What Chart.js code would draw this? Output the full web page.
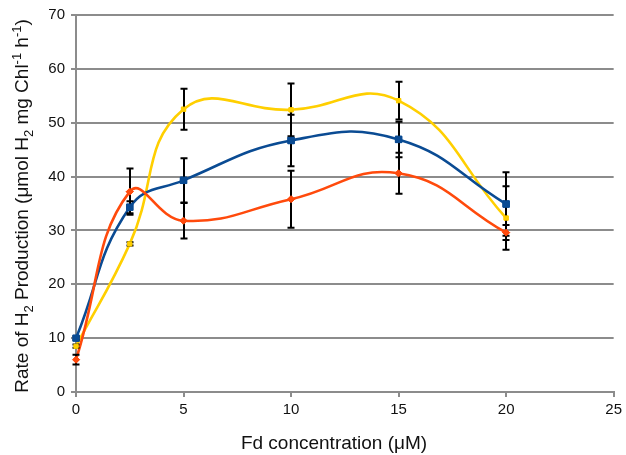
<!DOCTYPE html>
<html>
<head>
<meta charset="utf-8">
<script src="https://cdn.jsdelivr.net/npm/chart.js@4"></script>
<style>
html,body{margin:0;padding:0;background:#fff;}
#wrap{width:626px;height:455px;}
</style>
</head>
<body>
<div id="wrap"><canvas id="c" width="626" height="455"></canvas></div>
<script>
const xValues = [0, 2.5, 5, 10, 15, 20];
const blueValues = [10, 34.3, 39.3, 46.7, 46.9, 34.9];
const blueErrors = [0.3, 1.1, 4.1, 4.8, 3.3, 5.9];
const orangeValues = [6, 37.2, 31.8, 35.8, 40.6, 29.6];
const orangeErrors = [0.9, 4.3, 3.3, 5.3, 3.8, 1.4];
const yellowValues = [8.5, 27.5, 52.5, 52.4, 54.1, 32.3];
const yellowErrors = [0.3, 0.3, 3.8, 4.9, 3.5, 5.9];
const xTicks = [0, 5, 10, 15, 20, 25];
const yTicks = [0, 10, 20, 30, 40, 50, 60, 70];
const xTitle = [['Fd concentration (μM)', 'n']];
const yTitle = [['Rate of H', 'n'], ['2', 'sub'], [' Production (μmol H', 'n'], ['2', 'sub'], [' mg Chl', 'n'], ['-1', 'sup'], [' h', 'n'], ['-1', 'sup'], [')', 'n']];

function pts(vals){ return xValues.map((x,i)=>({x:x, y:vals[i]})); }

const FONT = 'Liberation Sans';

const errorBars = {
  id:'errorBars',
  afterDatasetsDraw(chart){
    const ctx = chart.ctx, xs = chart.scales.x, ys = chart.scales.y;
    ctx.save();
    ctx.strokeStyle = '#000';
    ctx.lineWidth = 2;
    chart.data.datasets.forEach(ds=>{
      if(!ds.errors) return;
      ds.data.forEach((p,i)=>{
        const e = ds.errors[i];
        const px = Math.round(xs.getPixelForValue(p.x));
        const top = ys.getPixelForValue(p.y + e);
        const bot = ys.getPixelForValue(p.y - e);
        ctx.beginPath();
        ctx.moveTo(px, top); ctx.lineTo(px, bot);
        ctx.moveTo(px-3.5, top); ctx.lineTo(px+3.5, top);
        ctx.moveTo(px-3.5, bot); ctx.lineTo(px+3.5, bot);
        ctx.stroke();
      });
    });
    ctx.restore();
    // redraw markers above error bars
    const metas = chart.getSortedVisibleDatasetMetas().slice().reverse();
    metas.forEach(m=>{ m.data.forEach(pt=>pt.draw(ctx, chart.chartArea)); });
  }
};

function drawRich(ctx, parts, size){
  const widths = parts.map(([t,k])=>{
    ctx.font = (k==='n'? size : size*0.68) + 'px "' + FONT + '"';
    return ctx.measureText(t).width;
  });
  const total = widths.reduce((a,b)=>a+b,0);
  let x = -total/2;
  parts.forEach(([t,k],i)=>{
    const s = k==='n'? size : size*0.68;
    ctx.font = s + 'px "' + FONT + '"';
    const dy = k==='sub' ? size*0.28 : (k==='sup' ? -size*0.38 : 0);
    ctx.fillText(t, x, dy);
    x += widths[i];
  });
}

const axisTitles = {
  id:'axisTitles',
  afterDraw(chart){
    const ctx = chart.ctx;
    ctx.save();
    ctx.fillStyle = '#111';
    ctx.textBaseline = 'alphabetic';
    ctx.textAlign = 'left';
    ctx.save();
    ctx.translate(334, 449);
    drawRich(ctx, xTitle, 19);
    ctx.restore();
    ctx.save();
    ctx.translate(28, 206);
    ctx.rotate(-Math.PI/2);
    drawRich(ctx, yTitle, 19);
    ctx.restore();
    ctx.restore();
  }
};

new Chart(document.getElementById('c'), {
  type:'line',
  data:{
    datasets:[
      {data:pts(orangeValues), errors:orangeErrors, borderColor:'#ff4a0c', backgroundColor:'#ff4a0c', pointBackgroundColor:'#ff4a0c', pointBorderColor:'#ff4a0c', borderWidth:2.6, pointStyle:'rectRot', pointRadius:3.5, pointBorderWidth:1, tension:0.45, order:1},
      {data:pts(blueValues), errors:blueErrors, borderColor:'#0a4b93', backgroundColor:'#0a4b93', pointBackgroundColor:'#0a4b93', pointBorderColor:'#0a4b93', borderWidth:2.6, pointStyle:'rect', pointRadius:4.5, pointBorderWidth:1, tension:0.45, order:2},
      {data:pts(yellowValues), errors:yellowErrors, borderColor:'#ffcf00', backgroundColor:'#ffcf00', pointBackgroundColor:'#ffcf00', pointBorderColor:'#ffcf00', borderWidth:2.6, pointStyle:'rect', pointRadius:3, pointBorderWidth:1, tension:0.45, order:3}
    ]
  },
  options:{
    responsive:false,
    animation:false,
    layout:{padding:{left:0,right:9,top:13,bottom:0}},
    plugins:{legend:{display:false},tooltip:{enabled:false}},
    scales:{
      x:{
        type:'linear', min:0, max:25,
        afterBuildTicks(ax){ ax.ticks = xTicks.map(v=>({value:v})); },
        afterFit(ax){ ax.height = 63; },
        grid:{display:true, drawOnChartArea:false, drawTicks:true, tickLength:5, color:'#8c8c8c', lineWidth:2},
        border:{color:'#8c8c8c', width:2},
        ticks:{color:'#111', font:{family:FONT, size:15}, padding:4, maxRotation:0},
        title:{display:false}
      },
      y:{
        min:0, max:70,
        afterBuildTicks(ax){ ax.ticks = yTicks.map(v=>({value:v})); },
        afterFit(ax){ ax.width = 76; },
        grid:{color:'#8c8c8c', lineWidth:2, tickLength:5, tickColor:'#8c8c8c'},
        border:{color:'#8c8c8c', width:2},
        ticks:{color:'#111', font:{family:FONT, size:15}, padding:6},
        title:{display:false}
      }
    }
  },
  plugins:[errorBars, axisTitles]
});
</script>
</body>
</html>
